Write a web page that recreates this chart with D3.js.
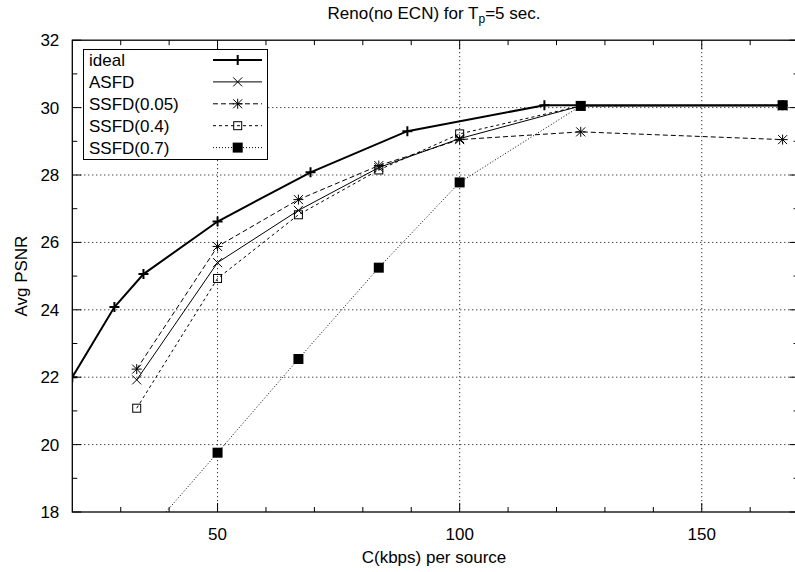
<!DOCTYPE html>
<html><head><meta charset="utf-8">
<script src="https://cdn.jsdelivr.net/npm/d3@7"></script>
<style>body{margin:0;background:#fff}svg{display:block}text{font-family:"Liberation Sans",Arial,Helvetica,sans-serif}</style>
</head><body>
<svg id="c" width="795" height="572"></svg>
<script>
// ---- data ----
const idealX = [20, 28.7, 34.7, 50, 69.2, 89.2, 117.5, 166.7];
const idealY = [22.0, 24.08, 25.06, 26.62, 28.08, 29.3, 30.07, 30.07];
const simX = [33.3, 50, 66.7, 83.3, 100, 125, 166.7];
const asfdY = [21.92, 25.4, 26.95, 28.22, 29.08, 30.05, 30.05];
const ssfd005Y = [22.24, 25.88, 27.27, 28.28, 29.05, 29.28, 29.05];
const ssfd04Y = [21.08, 24.93, 26.82, 28.15, 29.22, 30.05, 30.07];
const ssfd07Y = [17.0, 19.76, 22.54, 25.25, 27.78, 30.05, 30.07];
const xTicks = [50, 100, 150];
const yTicks = [18, 20, 22, 24, 26, 28, 30, 32];
const seriesNames = ["ideal", "ASFD", "SSFD(0.05)", "SSFD(0.4)", "SSFD(0.7)"];

const series = [
  {name: seriesNames[0], xs: idealX, ys: idealY, dash: null, w: 2, mark: "plus"},
  {name: seriesNames[1], xs: simX, ys: asfdY, dash: null, w: 1, mark: "cross"},
  {name: seriesNames[2], xs: simX, ys: ssfd005Y, dash: "5,3", w: 1, mark: "star"},
  {name: seriesNames[3], xs: simX, ys: ssfd04Y, dash: "3,3", w: 1, mark: "box"},
  {name: seriesNames[4], xs: simX, ys: ssfd07Y, dash: "1,2", w: 1, mark: "fbox"}
];

const svg = d3.select("#c");
const L = 72.3, R = 798.6, T = 40.2, B = 512;
const x = d3.scaleLinear().domain([20, 170]).range([L, R]);
const y = d3.scaleLinear().domain([18, 32]).range([B, T]);
const FS = 17;

// grid
const g = svg.append("g");
xTicks.forEach(v => g.append("line").attr("x1", x(v)).attr("x2", x(v)).attr("y1", T).attr("y2", B)
  .attr("stroke", "#000").attr("stroke-width", 1).attr("stroke-dasharray", "1,3"));
yTicks.filter(v => v > 18 && v < 32).forEach(v => g.append("line").attr("x1", L).attr("x2", R)
  .attr("y1", y(v)).attr("y2", y(v)).attr("stroke", "#000").attr("stroke-width", 1).attr("stroke-dasharray", "1,3"));

// mirrored ticks
const t = svg.append("g");
d3.range(30, 171, 10).forEach(v => {
  const len = xTicks.includes(v) ? 9 : 5;
  t.append("line").attr("x1", x(v)).attr("x2", x(v)).attr("y1", B).attr("y2", B - len).attr("stroke", "#000");
  t.append("line").attr("x1", x(v)).attr("x2", x(v)).attr("y1", T).attr("y2", T + len).attr("stroke", "#000");
});
d3.range(18, 33, 1).forEach(v => {
  const len = v % 2 === 0 ? 9 : 5;
  t.append("line").attr("x1", L).attr("x2", L + len).attr("y1", y(v)).attr("y2", y(v)).attr("stroke", "#000");
  t.append("line").attr("x1", R).attr("x2", R - len).attr("y1", y(v)).attr("y2", y(v)).attr("stroke", "#000");
});

// tick labels via scales
svg.append("g").selectAll("text").data(xTicks).join("text")
  .attr("x", d => x(d)).attr("y", B + 28).attr("text-anchor", "middle").attr("font-size", FS).text(d => d);
svg.append("g").selectAll("text").data(yTicks).join("text")
  .attr("x", L - 13).attr("y", d => y(d) + 6).attr("text-anchor", "end").attr("font-size", FS).text(d => d);

// clip
svg.append("clipPath").attr("id", "clip").append("rect").attr("x", L).attr("y", T).attr("width", R - L).attr("height", B - T);

// markers
function marker(sel, type, cx, cy) {
  if (type === "plus") {
    sel.append("path").attr("d", `M${cx-5},${cy}H${cx+5}M${cx},${cy-5}V${cy+5}`).attr("stroke", "#000").attr("stroke-width", 2);
  } else if (type === "cross") {
    sel.append("path").attr("d", `M${cx-4.5},${cy-4.5}L${cx+4.5},${cy+4.5}M${cx-4.5},${cy+4.5}L${cx+4.5},${cy-4.5}`).attr("stroke", "#000").attr("stroke-width", 1);
  } else if (type === "star") {
    sel.append("path").attr("d", `M${cx-4.5},${cy-4.5}L${cx+4.5},${cy+4.5}M${cx-4.5},${cy+4.5}L${cx+4.5},${cy-4.5}M${cx-5},${cy}H${cx+5}M${cx},${cy-5}V${cy+5}`).attr("stroke", "#000").attr("stroke-width", 1);
  } else if (type === "box") {
    sel.append("rect").attr("x", cx - 4).attr("y", cy - 4).attr("width", 8).attr("height", 8).attr("fill", "none").attr("stroke", "#000").attr("stroke-width", 1);
  } else if (type === "fbox") {
    sel.append("rect").attr("x", cx - 5).attr("y", cy - 5).attr("width", 10).attr("height", 10).attr("fill", "#000");
  }
}

const plot = svg.append("g").attr("clip-path", "url(#clip)");
const line = d3.line().x(d => x(d[0])).y(d => y(d[1]));
series.forEach(s => {
  const pts = s.xs.map((v, i) => [v, s.ys[i]]);
  plot.append("path").attr("d", line(pts)).attr("fill", "none").attr("stroke", "#000")
    .attr("stroke-width", s.w).attr("stroke-dasharray", s.dash);
  s.xs.forEach((v, i) => { if (s.ys[i] >= 18) marker(plot, s.mark, x(v), y(s.ys[i])); });
});

// frame
svg.append("rect").attr("x", L).attr("y", T).attr("width", R - L).attr("height", B - T)
  .attr("fill", "none").attr("stroke", "#000").attr("stroke-width", 1.3);

// legend
const lg = svg.append("g");
lg.append("rect").attr("x", 83.5).attr("y", 49.5).attr("width", 184).attr("height", 110).attr("fill", "#fff").attr("stroke", "#000");
series.forEach((s, i) => {
  const cy = 60 + i * 21.9;
  lg.append("text").attr("x", 89).attr("y", cy + 6).attr("font-size", FS).text(s.name);
  lg.append("line").attr("x1", 213).attr("x2", 262).attr("y1", cy).attr("y2", cy).attr("stroke", "#000")
    .attr("stroke-width", s.w).attr("stroke-dasharray", s.dash);
  marker(lg, s.mark, 237.7, cy);
});

// titles
const title = svg.append("text").attr("x", 434).attr("y", 19).attr("text-anchor", "middle").attr("font-size", FS);
title.append("tspan").text("Reno(no ECN) for T");
title.append("tspan").attr("font-size", 12).attr("dy", 4).text("p");
title.append("tspan").attr("dy", -4).text("=5 sec.");
svg.append("text").attr("x", 434).attr("y", 563).attr("text-anchor", "middle").attr("font-size", FS).text("C(kbps) per source");
svg.append("text").attr("transform", `translate(27,${(T + B) / 2}) rotate(-90)`).attr("text-anchor", "middle").attr("font-size", FS).text("Avg PSNR");
</script>
</body></html>
